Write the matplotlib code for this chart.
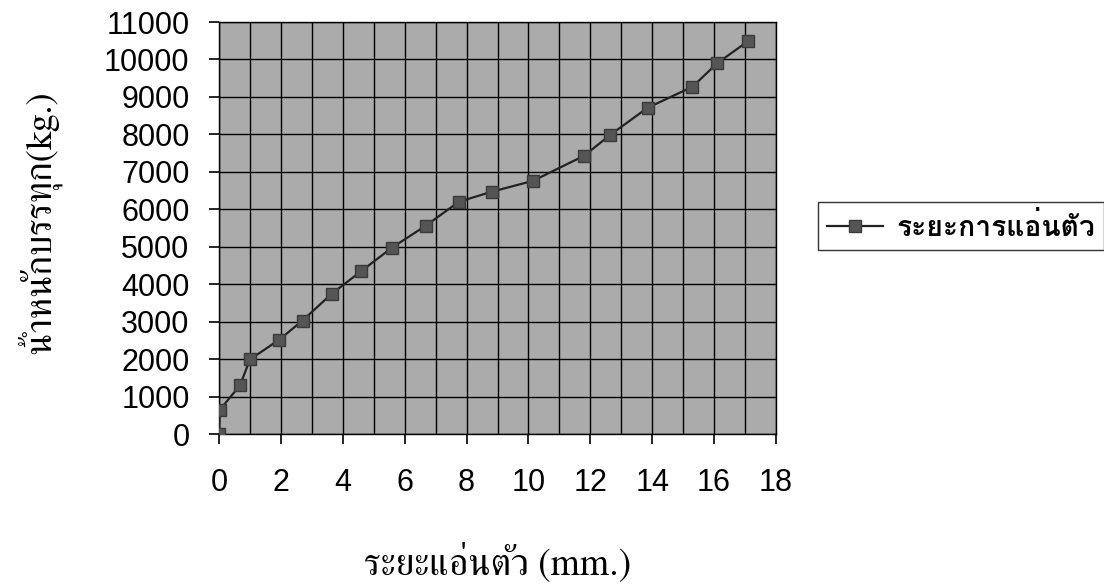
import matplotlib
matplotlib.use("Agg")
import matplotlib.pyplot as plt
from matplotlib import font_manager
from matplotlib.ft2font import FT2Font
from matplotlib.ticker import MultipleLocator

# deflection (mm) vs load (kg)
deflection_mm = [0, 0.03, 0.68, 1.0, 1.95, 2.7, 3.65, 4.6, 5.58, 6.68,
                 7.75, 8.82, 10.15, 11.8, 12.65, 13.85, 15.3, 16.1, 17.1]
load_kg = [0, 650, 1300, 1990, 2520, 3030, 3750, 4350, 4970, 5560,
           6200, 6470, 6760, 7430, 7990, 8710, 9270, 9900, 10490]

series_label = "ระยะการแอ่นตัว"
x_label = "ระยะแอ่นตัว (mm.)"
y_label = "น้ำหนักบรรทุก(kg.)"
x_ticks = list(range(0, 19, 2))
y_ticks = list(range(0, 11001, 1000))


def thai_fonts():
    # look for any installed font that has Thai glyphs
    found = []
    for f in font_manager.fontManager.ttflist:
        try:
            if 0x0E23 in FT2Font(f.fname).get_charmap():
                found.append(f.name)
        except Exception:
            pass
    return found


thai = thai_fonts()
serif_thai = [n for n in thai if "Serif" in n or n in ("Norasi", "Kinnari", "Garuda")]
sans_family = thai[:1] + ["Liberation Sans", "DejaVu Sans"]
serif_family = (serif_thai or thai)[:1] + ["Liberation Serif", "DejaVu Serif"]

plt.rcParams['font.family'] = ["Liberation Sans", "DejaVu Sans"]

fig = plt.figure(figsize=(11.04, 5.84), dpi=100)
ax = fig.add_axes([219/1104, 1 - 434/584, (776 - 219)/1104, (434 - 22)/584])
ax.set_facecolor('#ababab')

ax.plot(deflection_mm, load_kg, color='#222222', linewidth=1.6,
        marker='s', markersize=9, markerfacecolor='#555555',
        markeredgecolor='#3a3a3a', label=series_label, zorder=3)

ax.set_xlim(0, 18)
ax.set_ylim(0, 11000)
ax.set_xticks(x_ticks)
ax.set_yticks(y_ticks)
ax.xaxis.set_minor_locator(MultipleLocator(1))
ax.grid(True, which='both', axis='x', color='black', linewidth=1.0, zorder=1)
ax.grid(True, which='major', axis='y', color='black', linewidth=1.0, zorder=1)
ax.set_axisbelow(True)
ax.tick_params(axis='both', which='major', length=7.2, width=1.2,
               direction='out', labelsize=22, colors='black')
ax.tick_params(axis='x', which='minor', length=0)
ax.tick_params(axis='x', pad=17)
ax.tick_params(axis='y', pad=14)
for s in ax.spines.values():
    s.set_color('black')
    s.set_linewidth(1.0)

ax.set_xlabel(x_label, family=serif_family, fontsize=27)
ax.set_ylabel(y_label, family=serif_family, fontsize=26.5)
ax.xaxis.set_label_coords(0.5, -0.262)
ax.yaxis.set_label_coords(-0.283, 0.515)

leg = fig.legend(loc='center left', bbox_to_anchor=(818/1104, 1 - 226/584),
                 prop={'family': sans_family, 'weight': 'bold', 'size': 20.3},
                 frameon=True, fancybox=False, edgecolor='black',
                 handlelength=2.0, handletextpad=0.45, borderpad=0.32,
                 borderaxespad=0)
leg.get_frame().set_linewidth(1.0)

fig.savefig("out.png", dpi=100)
